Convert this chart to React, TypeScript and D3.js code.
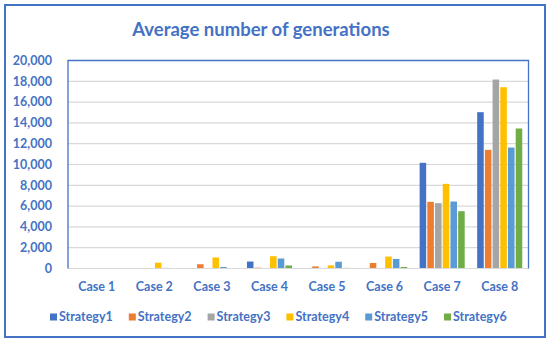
import React, { useEffect, useRef } from "react";
import * as d3 from "d3";

const cases = ["Case 1", "Case 2", "Case 3", "Case 4", "Case 5", "Case 6", "Case 7", "Case 8"];
const strategies = ["Strategy1", "Strategy2", "Strategy3", "Strategy4", "Strategy5", "Strategy6"];
const colors = ["#4472C4", "#ED7D31", "#A5A5A5", "#FFC000", "#5B9BD5", "#70AD47"];

// one array per strategy, values per case
const strategy1 = [5, 20, 30, 670, 30, 50, 10160, 15030];
const strategy2 = [5, 20, 410, 80, 200, 530, 6410, 11410];
const strategy3 = [5, 10, 20, 50, 50, 30, 6280, 18170];
const strategy4 = [5, 560, 1060, 1180, 300, 1150, 8140, 17430];
const strategy5 = [5, 60, 150, 960, 650, 920, 6440, 11630];
const strategy6 = [5, 20, 40, 290, 60, 150, 5510, 13460];
const series = [strategy1, strategy2, strategy3, strategy4, strategy5, strategy6];

const yTicks = [0, 2000, 4000, 6000, 8000, 10000, 12000, 14000, 16000, 18000, 20000];

const W = 550, H = 343;
const plot = { left: 68, right: 528.5, top: 60.5, bottom: 268.5 };
const blue = "#4472C4";
const font = "Lato, 'Open Sans', sans-serif";

function App() {
    const ref = useRef<SVGSVGElement>(null);

    useEffect(() => {
        const svg = d3.select(ref.current);
        svg.selectAll("*").remove();

        // outer frame
        svg.append("rect")
            .attr("x", 5).attr("y", 5)
            .attr("width", 540).attr("height", 332)
            .attr("fill", "white")
            .attr("stroke", blue)
            .attr("stroke-width", 2);

        svg.append("text")
            .text("Average number of generations")
            .attr("x", 261).attr("y", 36)
            .attr("text-anchor", "middle")
            .attr("font-family", font)
            .attr("font-weight", "bold")
            .attr("font-size", 18.5)
            .attr("fill", blue);

        var x0 = d3.scaleBand<string>()
            .domain(cases)
            .range([plot.left, plot.right])
            .paddingInner(0.217)
            .paddingOuter(0.1085);
        var x1 = d3.scaleBand<string>()
            .domain(strategies)
            .range([0, x0.bandwidth()])
            .paddingInner(0.15);
        var y = d3.scaleLinear()
            .domain([0, 20000])
            .range([plot.bottom, plot.top]);

        // gridlines
        svg.append("g")
            .selectAll("line")
            .data(yTicks.slice(1, -1))
            .enter().append("line")
            .attr("x1", plot.left).attr("x2", plot.right)
            .attr("y1", (d) => y(d)).attr("y2", (d) => y(d))
            .attr("stroke", "#D9D9D9")
            .attr("stroke-width", 1.2);

        // y labels
        svg.append("g")
            .selectAll("text")
            .data(yTicks)
            .enter().append("text")
            .text((d) => d3.format(",")(d))
            .attr("x", 52)
            .attr("y", (d) => y(d))
            .attr("dy", "0.35em")
            .attr("text-anchor", "end")
            .attr("font-family", font)
            .attr("font-weight", "bold")
            .attr("font-size", 12.5)
            .attr("fill", blue);

        // bars
        const groups = svg.append("g")
            .selectAll("g")
            .data(cases)
            .enter().append("g")
            .attr("transform", (d) => `translate(${x0(d)},0)`);
        groups.selectAll("rect")
            .data((c, i) => strategies.map((s, j) => ({ s, j, v: series[j][i] })))
            .enter().append("rect")
            .attr("x", (d) => x1(d.s)!)
            .attr("width", x1.bandwidth())
            .attr("y", (d) => y(d.v))
            .attr("height", (d) => plot.bottom - y(d.v))
            .attr("fill", (d) => colors[d.j]);

        // x axis line
        svg.append("line")
            .attr("x1", plot.left).attr("x2", plot.right)
            .attr("y1", plot.bottom).attr("y2", plot.bottom)
            .attr("stroke", "#D9D9D9")
            .attr("stroke-width", 1.2);

        // plot border (left, top, right)
        svg.append("path")
            .attr("d", `M${plot.left},${plot.bottom}V${plot.top}H${plot.right}V${plot.bottom}`)
            .attr("fill", "none")
            .attr("stroke", blue)
            .attr("stroke-width", 1.3);

        // x labels
        svg.append("g")
            .selectAll("text")
            .data(cases)
            .enter().append("text")
            .text((d) => d)
            .attr("x", (d) => x0(d)! + x0.bandwidth() / 2)
            .attr("y", 287)
            .attr("dy", "0.35em")
            .attr("text-anchor", "middle")
            .attr("font-family", font)
            .attr("font-weight", "bold")
            .attr("font-size", 12.5)
            .attr("fill", blue);

        // legend
        const legend = svg.append("g")
            .selectAll("g")
            .data(strategies)
            .enter().append("g")
            .attr("transform", (d, i) => `translate(${50 + i * 78.8},317)`);
        legend.append("rect")
            .attr("x", 0).attr("y", -3.5)
            .attr("width", 7).attr("height", 7)
            .attr("fill", (d, i) => colors[i]);
        legend.append("text")
            .text((d) => d)
            .attr("x", 9)
            .attr("dy", "0.35em")
            .attr("font-family", font)
            .attr("font-weight", "bold")
            .attr("font-size", 12.5)
            .attr("fill", blue);
    }, []);

    return <svg ref={ref} width={W} height={H} style={{ position: "absolute", left: 0, top: 0 }}></svg>;
}

export default App;
